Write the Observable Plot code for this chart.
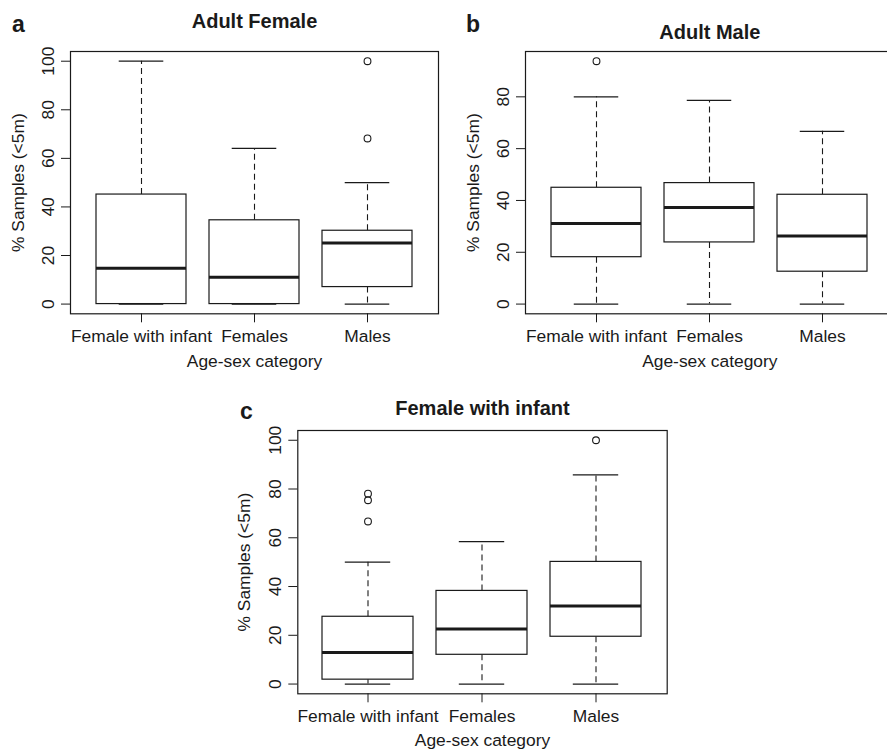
<!DOCTYPE html>
<html>
<head>
<meta charset="utf-8">
<script src="https://cdn.jsdelivr.net/npm/d3@7"></script>
<script src="https://cdn.jsdelivr.net/npm/@observablehq/plot@0.6"></script>
<style>
  html, body { margin: 0; padding: 0; background: #fff; overflow: hidden; }
  #wrap { position: relative; width: 887px; height: 749px; overflow: hidden; background: #fff; }
  .panel { position: absolute; }
  .panel svg { max-width: none !important; }
</style>
</head>
<body>
<div id="wrap"></div>
<script>
// ---------- DATA ----------
const categories = ["Female with infant", "Females", "Males"];
const axisTitleX = "Age-sex category";
const axisTitleY = "% Samples (<5m)";

const yTicksFull = [0, 20, 40, 60, 80, 100];
const yTicksMale = [0, 20, 40, 60, 80];

// Panel a: Adult Female
const adultFemaleLow    = [0, 0, 0];
const adultFemaleQ1     = [0, 0, 7.0];
const adultFemaleMedian = [14.8, 11.1, 25.1];
const adultFemaleQ3     = [45.1, 34.5, 30.2];
const adultFemaleHigh   = [100, 64.1, 50.0];
const adultFemaleOutCat = ["Males", "Males"];
const adultFemaleOutVal = [100, 68.2];

// Panel b: Adult Male
const adultMaleLow    = [0, 0, 0];
const adultMaleQ1     = [18.1, 23.8, 12.5];
const adultMaleMedian = [31.1, 37.3, 26.3];
const adultMaleQ3     = [44.9, 46.7, 42.2];
const adultMaleHigh   = [80.0, 78.6, 66.7];
const adultMaleOutCat = ["Female with infant"];
const adultMaleOutVal = [93.75];

// Panel c: Female with infant
const femInfantLow    = [0, 0, 0];
const femInfantQ1     = [1.8, 12.0, 19.4];
const femInfantMedian = [12.9, 22.6, 32.0];
const femInfantQ3     = [27.6, 38.2, 50.1];
const femInfantHigh   = [50.0, 58.4, 85.8];
const femInfantOutCat = ["Female with infant", "Female with infant", "Female with infant", "Males"];
const femInfantOutVal = [78.1, 75.4, 66.7, 100];

// ---------- DRAWING ----------
const FONT = "'Liberation Sans', Arial, Helvetica, sans-serif";
const INK = "#1a1a1a";
const wrap = document.getElementById("wrap");

function panel(cfg) {
  const rows = categories.map((c, i) => ({
    cat: c, low: cfg.low[i], q1: cfg.q1[i], med: cfg.med[i], q3: cfg.q3[i], high: cfg.high[i]
  }));
  const outs = cfg.outCat.map((c, i) => ({cat: c, v: cfg.outVal[i]}));
  const all = [...cfg.low, ...cfg.high, ...cfg.outVal];
  const lo = d3.min(all), hi = d3.max(all), pad = 0.04 * (hi - lo);

  const frameW = cfg.width - cfg.mL - cfg.mR;
  const step = frameW / 3.24;
  const capInset = 0.8 * step / 4;
  const fl = cfg.left + cfg.mL, ft = cfg.top + cfg.mT;
  const fb = cfg.top + cfg.height - cfg.mB;

  const chart = Plot.plot({
    width: cfg.width,
    height: cfg.height,
    marginLeft: cfg.mL, marginRight: cfg.mR, marginTop: cfg.mT, marginBottom: cfg.mB,
    style: {fontFamily: FONT, fontSize: "17.4px", color: INK, background: "transparent", overflow: "visible", maxWidth: "none"},
    x: {type: "band", domain: categories, paddingInner: 0.2, paddingOuter: 0.22, label: null},
    y: {domain: [lo - pad, hi + pad], label: null},
    marks: [
      // whiskers (dashed)
      Plot.ruleX(rows, {x: "cat", y1: "q3", y2: "high", stroke: INK, strokeWidth: 1.1, strokeDasharray: "6,4"}),
      Plot.ruleX(rows, {x: "cat", y1: "q1", y2: "low", stroke: INK, strokeWidth: 1.1, strokeDasharray: "6,4"}),
      // staples
      Plot.tickY(rows, {x: "cat", y: "high", stroke: INK, strokeWidth: 1.2, insetLeft: capInset, insetRight: capInset}),
      Plot.tickY(rows, {x: "cat", y: "low", stroke: INK, strokeWidth: 1.2, insetLeft: capInset, insetRight: capInset}),
      // boxes
      Plot.barY(rows, {x: "cat", y1: "q1", y2: "q3", fill: "white", stroke: INK, strokeWidth: 1.2}),
      // medians
      Plot.tickY(rows, {x: "cat", y: "med", stroke: INK, strokeWidth: 3}),
      // outliers
      Plot.dot(outs, {x: "cat", y: "v", r: 3.4, stroke: INK, strokeWidth: 1.1, fill: "none"}),
      Plot.frame({stroke: INK, strokeWidth: 1.2}),
      Plot.axisY({ticks: cfg.ticks, tickSize: 9, tickPadding: 8, tickRotate: -90, label: null, fontSize: 17.4, stroke: INK}),
      Plot.axisX({tickSize: 9, tickPadding: 7, label: null, fontSize: 17.4, stroke: INK}),
      // axis titles
      Plot.text([axisTitleX], {frameAnchor: "bottom", dy: cfg.xTitleBase - fb, lineAnchor: "bottom",
        textAnchor: "middle", fontSize: 17.4, fill: INK}),
      Plot.text([axisTitleY], {frameAnchor: "left", dx: cfg.yTitleBase - fl, rotate: -90, lineAnchor: "bottom",
        textAnchor: "middle", fontSize: 17.4, fill: INK}),
      // panel title
      Plot.text([cfg.title], {frameAnchor: "top", dy: cfg.titleBase - ft, lineAnchor: "bottom",
        textAnchor: "middle", fontSize: 20, fontWeight: "bold", fill: INK}),
      // panel letter
      Plot.text([cfg.letter], {frameAnchor: "top-left", dx: cfg.letterX - fl, dy: cfg.letterBase - ft,
        lineAnchor: "bottom", textAnchor: "start", fontSize: 23, fontWeight: "bold", fill: INK})
    ]
  });
  const div = document.createElement("div");
  div.className = "panel";
  div.style.left = cfg.left + "px";
  div.style.top = cfg.top + "px";
  div.style.width = cfg.width + "px";
  div.style.height = cfg.height + "px";
  div.appendChild(chart);
  wrap.appendChild(div);
}

panel({
  letter: "a", title: "Adult Female",
  low: adultFemaleLow, q1: adultFemaleQ1, med: adultFemaleMedian, q3: adultFemaleQ3, high: adultFemaleHigh,
  outCat: adultFemaleOutCat, outVal: adultFemaleOutVal, ticks: yTicksFull,
  left: 0, top: 0, width: 440, height: 370, mL: 70, mR: 2, mT: 51, mB: 56.7,
  xTitleBase: 366, yTitleBase: 23, titleBase: 27.3, letterX: 11.5, letterBase: 31.5
});

panel({
  letter: "b", title: "Adult Male",
  low: adultMaleLow, q1: adultMaleQ1, med: adultMaleMedian, q3: adultMaleQ3, high: adultMaleHigh,
  outCat: adultMaleOutCat, outVal: adultMaleOutVal, ticks: yTicksMale,
  left: 440, top: 0, width: 460, height: 370, mL: 85, mR: 6.3, mT: 51, mB: 56.7,
  xTitleBase: 366, yTitleBase: 478, titleBase: 38.3, letterX: 465.5, letterBase: 31.5
});

panel({
  letter: "c", title: "Female with infant",
  low: femInfantLow, q1: femInfantQ1, med: femInfantMedian, q3: femInfantQ3, high: femInfantHigh,
  outCat: femInfantOutCat, outVal: femInfantOutVal, ticks: yTicksFull,
  left: 220, top: 380, width: 460, height: 369, mL: 77.3, mR: 13.3, mT: 50, mB: 55.7,
  xTitleBase: 745.7, yTitleBase: 249.5, titleBase: 414, letterX: 239.5, letterBase: 418.3
});
</script>
</body>
</html>
